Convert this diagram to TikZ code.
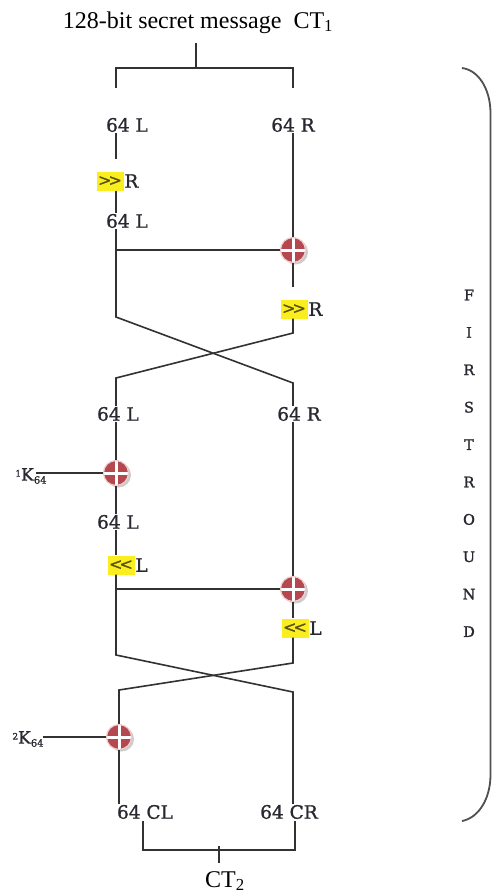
\documentclass[tikz,border=0pt]{standalone}
\usepackage{fontspec}
\setmainfont{Liberation Serif}
\newfontfamily\lblfont{DejaVu Serif}[FakeBold=1.2]
\newfontfamily\rndfont{DejaVu Serif}[FakeBold=1.5]
\usetikzlibrary{shadows}
\definecolor{linec}{RGB}{50,50,50}
\definecolor{txtc}{RGB}{40,40,48}
\definecolor{hly}{RGB}{250,238,30}
\definecolor{hltxt}{RGB}{90,80,20}
\definecolor{xred}{RGB}{180,72,78}
\definecolor{xrim}{RGB}{238,205,205}
\definecolor{bracec}{RGB}{80,80,80}
\begin{document}
\begin{tikzpicture}[x=1pt,y=-1pt,
  conn/.style={draw=linec, line width=1.6pt},
  lbl/.style={font=\lblfont\fontsize{18.5}{21}\selectfont, text=txtc, inner sep=1pt},
  hlbox/.style={fill=hly, inner sep=0pt, minimum width=27pt, minimum height=19pt, text=hltxt, font=\lblfont\fontsize{16}{18}\selectfont},
  hlletter/.style={lbl, anchor=west, inner sep=0.5pt},
  xorg/.style={circle, minimum size=25pt, inner sep=0pt, fill=xred, draw=xrim, line width=1.2pt,
    drop shadow={shadow xshift=2.5pt, shadow yshift=-2pt, fill=black, opacity=0.2},
    path picture={\draw[white, line width=3pt] (path picture bounding box.north) -- (path picture bounding box.south) (path picture bounding box.west) -- (path picture bounding box.east);}},
  keylbl/.style={font=\lblfont\fontsize{17}{19}\selectfont, text=txtc, inner sep=0pt},
  ttl/.style={font=\fontsize{24}{28}\selectfont, text=black, anchor=base, inner sep=0pt},
  rnd/.style={font=\rndfont\fontsize{14.5}{16}\selectfont, text=txtc, inner sep=0pt}
]
\fill[white] (0,0) rectangle (492,895);
\useasboundingbox (0,0) rectangle (492,895);
\coordinate (cL) at (116,0);
\coordinate (cR) at (293,0);

% title and top bracket
\node[ttl] (title) at (198,28) {128-bit secret message\enspace CT\textsubscript{1}};
\coordinate (stemTop) at (196,43);
\coordinate (brTop) at (196,68);
\coordinate (brL) at (116,88);
\coordinate (brR) at (293,88);
\draw[conn] (stemTop) -- (brTop);
\draw[conn] (brL) -- (brL |- brTop) -- (brR |- brTop) -- (brR);

% nodes
\node[lbl] (L1) at (127,125) {64 L};
\node[lbl] (R1) at (293,125) {64 R};
\node[hlbox] (sh1) at (110,181) {>\kern-3pt>};
\node[hlletter] (sh1r) at (sh1.east) {R};
\node[lbl] (L2) at (127,221) {64 L};
\node[xorg] (x1) at (293,250) {};
\node[hlbox] (sh2) at (294,309) {>\kern-3pt>};
\node[hlletter] (sh2r) at (sh2.east) {R};
\node[lbl] (L3) at (118,414) {64 L};
\node[lbl] (R3) at (299,414) {64 R};
\node[xorg] (x2) at (116,473) {};
\node[keylbl] (k1) at (31,476) {\raisebox{4pt}{\fontsize{9}{9}\selectfont 1}K\raisebox{-3pt}{\fontsize{10}{10}\selectfont 64}};
\node[lbl] (L4) at (118,522) {64 L};
\node[hlbox] (sh3) at (121,565) {<\kern-3pt<};
\node[hlletter] (sh3r) at (sh3.east) {L};
\node[xorg] (x3) at (293,589) {};
\node[hlbox] (sh4) at (295,628) {<\kern-3pt<};
\node[hlletter] (sh4r) at (sh4.east) {L};
\node[xorg] (x4) at (119,737) {};
\node[keylbl] (k2) at (28,739) {\raisebox{4pt}{\fontsize{9}{9}\selectfont 2}K\raisebox{-3pt}{\fontsize{10}{10}\selectfont 64}};
\node[lbl] (CL) at (145,812) {64 CL};
\node[lbl] (CR) at (289,812) {64 CR};
\node[ttl] (ct2) at (225,887) {CT\textsubscript{2}};

% junctions and bends
\coordinate (j1) at (116,250);
\coordinate (a1) at (116,317);
\coordinate (a2) at (293,383);
\coordinate (b1) at (293,333);
\coordinate (b2) at (116,378);
\coordinate (k1s) at (36,473);
\coordinate (j2) at (116,589);
\coordinate (c1) at (116,655);
\coordinate (c2) at (293,692);
\coordinate (d1) at (293,663);
\coordinate (d2) at (119,690);
\coordinate (k2s) at (43,737);

% first half
\draw[conn, shorten >=12pt] (L1.south -| cL) -- (sh1.north -| cL);
\draw[conn] (sh1.south -| cL) -- (L2.north -| cL);
\draw[conn] (L2.south -| cL) -- (a1) -- (a2) -- (R3.north -| cR);
\draw[conn] (j1) -- (x1.west);
\draw[conn] (R1.south -| cR) -- (x1.north);
\draw[conn, shorten >=12pt] (x1.south) -- (sh2.north -| cR);
\draw[conn] (sh2.south -| cR) -- (b1) -- (b2) -- (L3.north -| cL);

% second half
\draw[conn] (L3.south -| cL) -- (x2.north);
\draw[conn] (k1s) -- (x2.west);
\draw[conn] (x2.south) -- (L4.north -| cL);
\draw[conn] (L4.south -| cL) -- (sh3.north -| cL);
\draw[conn] (sh3.south -| cL) -- (c1) -- (c2) -- (CR.north -| cR);
\draw[conn] (j2) -- (x3.west);
\draw[conn] (R3.south -| cR) -- (x3.north);
\draw[conn] (x3.south) -- (sh4.north -| cR);
\draw[conn] (sh4.south -| cR) -- (d1) -- (d2) -- (x4.north);
\draw[conn] (k2s) -- (x4.west);
\draw[conn] (x4.south) -- (CL.north -| x4);

% bottom bracket
\coordinate (bb1) at (143,821);
\coordinate (bb2) at (295,821);
\coordinate (bbm) at (219,850);
\coordinate (tickTop) at (219,846);
\coordinate (tickEnd) at (219,863);
\draw[conn] (bb1) -- (bb1 |- bbm) -- (bb2 |- bbm) -- (bb2);
\draw[conn] (tickTop) -- (tickEnd);

% brace
\draw[draw=bracec, line width=1.8pt] (462,68) .. controls (478,70) and (490,88) .. (490.5,112) -- (490.5,776) .. controls (490,800) and (478,818) .. (462,821);

% FIRST ROUND letters
\foreach \ch [count=\i] in {F,I,R,S,T,R,O,U,N,D}
  \node[rnd] (fr\i) at (469,{295+37.4*(\i-1)}) {\ch};
\end{tikzpicture}
\end{document}
